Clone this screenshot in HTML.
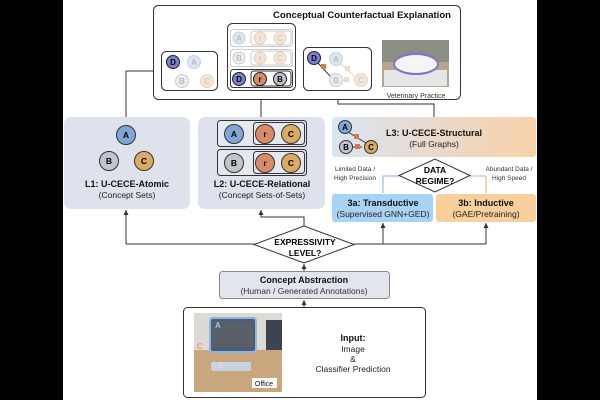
<!DOCTYPE html>
<html><head><meta charset="utf-8"><style>
html,body{margin:0;padding:0;background:#000;}
svg{display:block;font-family:"Liberation Sans",sans-serif;}
</style></head><body>
<svg width="600" height="400" viewBox="0 0 600 400">
<defs>
<marker id="ar" markerWidth="6" markerHeight="6" refX="5" refY="3" orient="auto"><path d="M0,0.5 L5,3 L0,5.5z" fill="#333"/></marker>
<linearGradient id="g3" x1="0" x2="1"><stop offset="0" stop-color="#d8e6f4"/><stop offset="0.5" stop-color="#ead9cc"/><stop offset="1" stop-color="#f8d2aa"/></linearGradient>
</defs>
<rect x="63" y="0" width="474" height="400" fill="#fff"/>
<g stroke="#333" stroke-width="1" fill="none">
<!-- connectors -->
<polyline points="126,117 126,71 160,71" marker-end="url(#ar)"/>
<polyline points="261,117 261,92" marker-end="url(#ar)"/>
<polyline points="434,117 434,104 338,104 338,93" marker-end="url(#ar)"/>
<polyline points="126,244 254,244"/>
<polyline points="354,244 486,244"/>
<polyline points="126,244 126,210" marker-end="url(#ar)"/>
<polyline points="304,226 304,217 261,217 261,210" marker-end="url(#ar)"/>
<polyline points="383,244 383,223" marker-end="url(#ar)"/>
<polyline points="486,244 486,223" marker-end="url(#ar)"/>
<polyline points="304,271 304,264" marker-end="url(#ar)"/>
<polyline points="304,307 304,300" marker-end="url(#ar)"/>
</g>
<polyline points="399,176 383,176 383,193" stroke="#7fb0e0" fill="none"/>
<polyline points="470,176 486,176 486,193" stroke="#e7a868" fill="none"/>
<!-- top box -->
<rect x="153.5" y="5.5" width="307" height="94" rx="5" fill="#fff" stroke="#333"/>
<text x="362" y="18" font-size="9.5" font-weight="bold" text-anchor="middle" fill="#111">Conceptual Counterfactual Explanation</text>
<g font-size="8" font-weight="bold" text-anchor="middle">
<rect x="161.5" y="51.5" width="56" height="39" rx="5" fill="#fff" stroke="#333"/>
<circle cx="173" cy="62" r="6.5" fill="#7b7fcf" stroke="#222"/><text x="173" y="65">D</text>
<circle cx="194" cy="62" r="6.5" fill="#dde7f2" stroke="#ccd"/><text x="194" y="65" fill="#bbb">A</text>
<circle cx="182" cy="81" r="6.5" fill="#eee" stroke="#ccc"/><text x="182" y="84" fill="#bbb">B</text>
<circle cx="207" cy="81" r="6.5" fill="#f5e6d8" stroke="#e5d5c5"/><text x="207" y="84" fill="#ccb">C</text>

<rect x="227.5" y="23.5" width="68" height="67" rx="5" fill="#fff" stroke="#333"/>
<rect x="230.5" y="29.5" width="62" height="17" rx="3" fill="#fff" stroke="#ccc"/>
<rect x="251" y="31" width="40" height="14" rx="3" fill="none" stroke="#ccc"/>
<circle cx="239" cy="38" r="6" fill="#dde7f2" stroke="#ccd"/><text x="239" y="41" fill="#bbb">A</text>
<circle cx="260" cy="38" r="6" fill="#f5e3d8" stroke="#e5d0c5"/><text x="260" y="41" fill="#ccb">r</text>
<circle cx="280" cy="38" r="6" fill="#f5e6d8" stroke="#e5d5c5"/><text x="280" y="41" fill="#ccb">C</text>
<rect x="230.5" y="49.5" width="62" height="17" rx="3" fill="#fff" stroke="#ccc"/>
<rect x="251" y="51" width="40" height="14" rx="3" fill="none" stroke="#ccc"/>
<circle cx="239" cy="58" r="6" fill="#eee" stroke="#ccc"/><text x="239" y="61" fill="#bbb">B</text>
<circle cx="260" cy="58" r="6" fill="#f5e3d8" stroke="#e5d0c5"/><text x="260" y="61" fill="#ccb">r</text>
<circle cx="280" cy="58" r="6" fill="#f5e6d8" stroke="#e5d5c5"/><text x="280" y="61" fill="#ccb">C</text>
<rect x="230.5" y="69.5" width="62" height="18" rx="3" fill="#fff" stroke="#333"/>
<rect x="251" y="71" width="40" height="15" rx="3" fill="none" stroke="#333"/>
<circle cx="239" cy="79" r="6.5" fill="#7b7fcf" stroke="#222"/><text x="239" y="82">D</text>
<circle cx="260" cy="79" r="6.5" fill="#d98a66" stroke="#222"/><text x="260" y="82">r</text>
<circle cx="280" cy="79" r="6.5" fill="#bfc2cc" stroke="#222"/><text x="280" y="82">B</text>

<rect x="303.5" y="47.5" width="68" height="43" rx="5" fill="#fff" stroke="#333"/>
<line x1="318" y1="63" x2="330" y2="76" stroke="#333"/>
<line x1="341" y1="64" x2="354" y2="76" stroke="#f0d0b8"/>
<line x1="342" y1="80" x2="350" y2="80" stroke="#f0d0b8"/>
<circle cx="314" cy="58" r="6.5" fill="#7b7fcf" stroke="#222"/><text x="314" y="61">D</text>
<circle cx="336" cy="59" r="6.5" fill="#dde7f2" stroke="#ccd"/><text x="336" y="62" fill="#bbb">A</text>
<circle cx="336" cy="80" r="6.5" fill="#eee" stroke="#ccc"/><text x="336" y="83" fill="#bbb">B</text>
<circle cx="361" cy="80" r="6.5" fill="#f5e6d8" stroke="#e5d5c5"/><text x="361" y="83" fill="#ccb">C</text>
<rect x="321" y="64" width="5" height="5" fill="#d9784e"/>
<rect x="345" y="66" width="5" height="5" fill="#f5d8c5"/>
<rect x="344" y="77" width="5" height="5" fill="#f5d8c5"/>
</g>
<!-- cat image -->
<rect x="382" y="40" width="67" height="47" fill="#b9a58c"/>
<rect x="382" y="40" width="67" height="22" fill="#8b8f84"/>
<rect x="384" y="70" width="63" height="16" fill="#e6e6e6"/>
<ellipse cx="416" cy="64" rx="22" ry="10" fill="#f4f4f6" stroke="#7a70d8" stroke-width="2"/>
<text x="416" y="98" font-size="7" text-anchor="middle" fill="#333">Veterinary Practice</text>
<!-- L1 -->
<rect x="64" y="117" width="126" height="92" rx="7" fill="#dfe1ec"/>
<g font-size="8.5" font-weight="bold" text-anchor="middle">
<circle cx="126" cy="135" r="9.5" fill="#7ea7d6" stroke="#333"/><text x="126" y="138">A</text>
<circle cx="109" cy="161" r="9.5" fill="#c3c5cc" stroke="#333"/><text x="109" y="164">B</text>
<circle cx="144" cy="161" r="9.5" fill="#dcaa62" stroke="#333"/><text x="144" y="164">C</text>
</g>
<text x="127" y="187" font-size="9" font-weight="bold" text-anchor="middle" fill="#111">L1: U-CECE-Atomic</text>
<text x="127" y="198" font-size="8.5" text-anchor="middle" fill="#222">(Concept Sets)</text>
<!-- L2 -->
<rect x="198" y="117" width="127" height="92" rx="7" fill="#dfe1ec"/>
<g font-size="8.5" font-weight="bold" text-anchor="middle" stroke="#333">
<rect x="217.5" y="120.5" width="89" height="26" rx="3" fill="#e6e8f0"/>
<rect x="253.5" y="122.5" width="51" height="22" rx="3" fill="none"/>
<rect x="217.5" y="149.5" width="89" height="26" rx="3" fill="#e6e8f0"/>
<rect x="253.5" y="151.5" width="51" height="22" rx="3" fill="none"/>
<circle cx="234" cy="134" r="9.5" fill="#7ea7d6"/>
<circle cx="265" cy="134" r="9.5" fill="#d98a66"/>
<circle cx="291" cy="134" r="9.5" fill="#dcaa62"/>
<circle cx="234" cy="163" r="9.5" fill="#c3c5cc"/>
<circle cx="265" cy="163" r="9.5" fill="#d98a66"/>
<circle cx="291" cy="163" r="9.5" fill="#dcaa62"/>
</g>
<g font-size="8.5" font-weight="bold" text-anchor="middle">
<text x="234" y="137">A</text><text x="265" y="137">r</text><text x="291" y="137">C</text>
<text x="234" y="166">B</text><text x="265" y="166">r</text><text x="291" y="166">C</text>
</g>
<text x="262" y="187" font-size="9" font-weight="bold" text-anchor="middle" fill="#111">L2: U-CECE-Relational</text>
<text x="262" y="198" font-size="8.5" text-anchor="middle" fill="#222">(Concept Sets-of-Sets)</text>
<!-- L3 -->
<rect x="332" y="117" width="204" height="40" rx="3" fill="url(#g3)"/>
<line x1="348" y1="132" x2="366" y2="143" stroke="#333"/>
<line x1="352" y1="147" x2="362" y2="147" stroke="#333"/>
<g font-size="8" font-weight="bold" text-anchor="middle">
<circle cx="345" cy="127" r="6.5" fill="#7ea7d6" stroke="#333"/><text x="345" y="130">A</text>
<circle cx="346" cy="147" r="6.5" fill="#c3c5cc" stroke="#333"/><text x="346" y="150">B</text>
<circle cx="371" cy="147" r="6.5" fill="#dcaa62" stroke="#333"/><text x="371" y="150">C</text>
<rect x="354" y="134" width="5" height="5" fill="#d9784e"/>
<rect x="355" y="144" width="5" height="5" fill="#d9784e"/>
</g>
<text x="434" y="136" font-size="9" font-weight="bold" text-anchor="middle" fill="#111">L3: U-CECE-Structural</text>
<text x="434" y="147" font-size="8.5" text-anchor="middle" fill="#222">(Full Graphs)</text>
<!-- data regime -->
<polygon points="399,175.5 435,159 470,175.5 435,192" fill="#fff" stroke="#333"/>
<text x="435" y="173" font-size="8.5" font-weight="bold" text-anchor="middle">DATA</text>
<text x="435" y="184" font-size="8.5" font-weight="bold" text-anchor="middle">REGIME?</text>
<g font-size="6.5" text-anchor="middle" fill="#333">
<text x="355" y="171">Limited Data /</text><text x="355" y="180">High Precision</text>
<text x="509" y="171">Abundant Data /</text><text x="509" y="180">High Speed</text>
</g>
<rect x="332" y="194" width="101" height="28" rx="3" fill="#a8d2f6"/>
<text x="383" y="206" font-size="9" font-weight="bold" text-anchor="middle" fill="#111">3a: Transductive</text>
<text x="383" y="217" font-size="8.5" text-anchor="middle" fill="#222">(Supervised GNN+GED)</text>
<rect x="436" y="194" width="100" height="28" rx="3" fill="#f9cf9b"/>
<text x="486" y="206" font-size="9" font-weight="bold" text-anchor="middle" fill="#111">3b: Inductive</text>
<text x="486" y="217" font-size="8.5" text-anchor="middle" fill="#222">(GAE/Pretraining)</text>
<!-- expressivity -->
<polygon points="254,244.5 304,226 354,244.5 304,263" fill="#fff" stroke="#333"/>
<text x="305" y="245" font-size="8.5" font-weight="bold" text-anchor="middle">EXPRESSIVITY</text>
<text x="305" y="256" font-size="8.5" font-weight="bold" text-anchor="middle">LEVEL?</text>
<!-- concept abstraction -->
<rect x="219.5" y="271.5" width="170" height="27" rx="3" fill="#e2e4ee" stroke="#888"/>
<text x="304" y="283" font-size="9" font-weight="bold" text-anchor="middle" fill="#111">Concept Abstraction</text>
<text x="304" y="294" font-size="8.5" text-anchor="middle" fill="#333">(Human / Generated Annotations)</text>
<!-- input -->
<rect x="183.5" y="307.5" width="242" height="90" rx="4" fill="#fff" stroke="#333"/>
<rect x="194" y="313" width="88" height="79" fill="#ddd9d4"/>
<rect x="194" y="350" width="88" height="42" fill="#c9a77e"/>
<rect x="210" y="318" width="46" height="34" rx="3" fill="#4b5d78" stroke="#8fb6e0" stroke-width="2"/>
<rect x="213" y="322" width="40" height="26" fill="#5a5f6a"/>
<rect x="211" y="362" width="40" height="9" rx="2" fill="#c8d3e0"/>
<rect x="266" y="320" width="16" height="30" fill="#3c4452"/>
<text x="215" y="328" font-size="8" font-weight="bold" fill="#9cc4ee">A</text>
<text x="197" y="349" font-size="8" font-weight="bold" fill="#e2a35c">C</text>
<text x="218" y="368" font-size="8" font-weight="bold" fill="#ddd">B</text>
<rect x="252" y="378" width="25" height="10" fill="#fff"/>
<text x="264" y="386" font-size="7" text-anchor="middle" fill="#111">Office</text>
<text x="353" y="341" font-size="9" font-weight="bold" text-anchor="middle" fill="#111">Input:</text>
<text x="353" y="352" font-size="8.5" text-anchor="middle" fill="#222">Image</text>
<text x="353" y="362" font-size="8.5" text-anchor="middle" fill="#222">&amp;</text>
<text x="353" y="372" font-size="8.5" text-anchor="middle" fill="#222">Classifier Prediction</text>
</svg>
</body></html>
